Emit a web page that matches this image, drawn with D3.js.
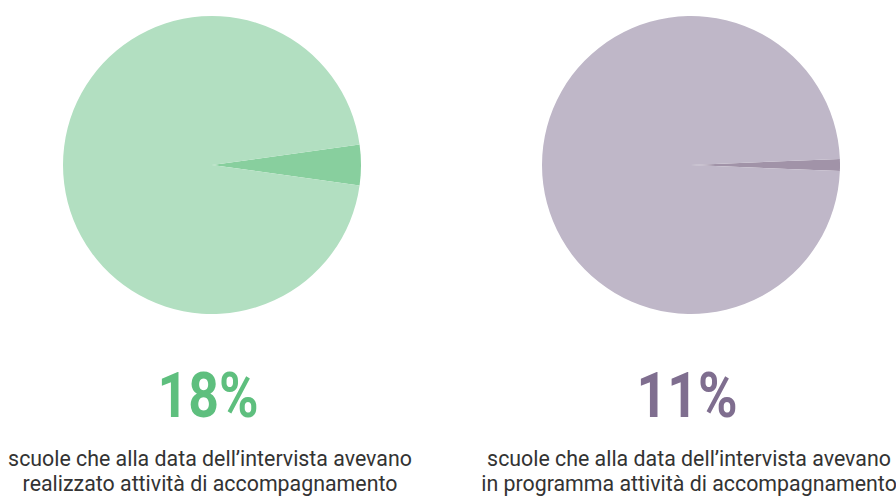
<!DOCTYPE html>
<html>
<head>
<meta charset="utf-8">
<script src="https://cdn.jsdelivr.net/npm/d3@7"></script>
<style>
  body { margin: 0; background: #fff; }
  svg { display: block; }
  text { font-family: Roboto, "Open Sans", sans-serif; }
</style>
</head>
<body>
<svg id="chart"></svg>
<script>
// small slice share (as drawn) and the rest of each pie
const pieNames = ['realizzato', 'in programma'];
const sliceShares = [4.4, 1.3];
const percentLabels = ['18%', '11%'];
const captionLines = [
  ['scuole che alla data dell\u2019intervista avevano', 'realizzato attività di accompagnamento'],
  ['scuole che alla data dell\u2019intervista avevano', 'in programma attività di accompagnamento']
];
const palettes = [
  { main: '#b2dfc1', slice: '#88cf9e', text: '#5ebf7e' },
  { main: '#bfb7c8', slice: '#a193a8', text: '#7f6e8f' }
];

const width = 896;
const height = 496;
const radius = 149;

const svg = d3.select('#chart')
  .attr('width', width)
  .attr('height', height);

const x = d3.scalePoint()
  .domain(pieNames)
  .range([212, 691]);

const arc = d3.arc().innerRadius(0).outerRadius(radius);

pieNames.forEach((name, i) => {
  const cx = x(name);
  const share = sliceShares[i];
  const values = [share, 100 - share];
  // center the small slice on 3 o'clock
  const start = Math.PI / 2 - (share / 100) * Math.PI;
  const pie = d3.pie().sort(null).value(d => d)
    .startAngle(start).endAngle(start + 2 * Math.PI);

  const g = svg.append('g')
    .attr('transform', `translate(${cx}, 165)`);

  g.selectAll('path')
    .data(pie(values))
    .enter()
    .append('path')
    .attr('d', arc)
    .attr('fill', (d, j) => j === 0 ? palettes[i].slice : palettes[i].main);

  // big percentage
  const pct = svg.append('text')
    .attr('x', 0).attr('y', 0)
    .attr('text-anchor', 'middle')
    .attr('font-weight', 700)
    .attr('font-size', 63)
    .attr('fill', palettes[i].text)
    .text(percentLabels[i]);
  const pw = pct.node().getComputedTextLength();
  pct.attr('transform', `translate(${cx - 4}, 417) scale(${101 / pw}, 1)`);

  // caption, condensed look
  const cap = svg.append('g');
  const lines = cap.selectAll('text')
    .data(captionLines[i])
    .enter()
    .append('text')
    .attr('x', 0)
    .attr('y', (d, j) => j * 25)
    .attr('text-anchor', 'middle')
    .attr('font-size', 22)
    .attr('fill', '#333')
    .text(d => d);
  const w0 = lines.node().getComputedTextLength();
  cap.attr('transform', `translate(${cx - 2}, 466) scale(${404 / w0}, 1)`);
});
</script>
</body>
</html>
